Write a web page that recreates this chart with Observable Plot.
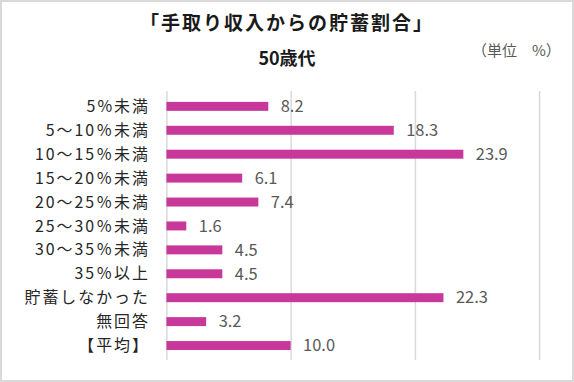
<!DOCTYPE html>
<html>
<head>
<meta charset="utf-8">
<script src="https://cdn.jsdelivr.net/npm/d3@7"></script>
<script src="https://cdn.jsdelivr.net/npm/@observablehq/plot@0.6"></script>
<style>
  html, body { margin: 0; padding: 0; background: #fff; }
  #frame {
    position: relative; width: 574px; height: 382px; box-sizing: border-box;
    border: 2px solid #d9d9d9; background: #fff; overflow: hidden;
    font-family: "Noto Sans CJK JP", sans-serif;
  }
  #title {
    position: absolute; left: -2px; width: 574px; top: 6px; text-align: center;
    font-size: 19px; font-weight: bold; color: #1a1a1a; letter-spacing: 2px; line-height: 28px;
  }
  #subtitle {
    position: absolute; left: -2px; width: 574px; top: 43px; text-align: center;
    font-size: 18px; font-weight: bold; color: #1a1a1a; line-height: 24px;
  }
  #unit {
    position: absolute; left: 470px; top: 36px;
    font-size: 15px; color: #595959; line-height: 24px; white-space: pre;
  }
  #chart { position: absolute; left: -2px; top: 66px; }
  #chart g[aria-label="y-axis tick label"] text { letter-spacing: 2px; }
</style>
</head>
<body>
<div id="frame">
  <div id="title">「手取り収入からの貯蓄割合」</div>
  <div id="subtitle">50歳代</div>
  <div id="unit">（単位　%）</div>
  <div id="chart"></div>
</div>
<script>
const categories = ["5%未満", "5～10％未満", "10～15％未満", "15～20％未満", "20～25％未満", "25～30％未満", "30～35％未満", "35％以上", "貯蓄しなかった", "無回答", "【平均】"];
const values = [8.2, 18.3, 23.9, 6.1, 7.4, 1.6, 4.5, 4.5, 22.3, 3.2, 10.0];
const gridTicks = [0, 10, 20, 30];

const data = categories.map((c, i) => ({category: c, value: values[i]}));

const chart = Plot.plot({
  width: 574,
  height: 304,
  marginLeft: 167,
  marginRight: 33,
  marginTop: 23,
  marginBottom: 11,
  style: {fontFamily: '"Noto Sans CJK JP", sans-serif', background: "transparent"},
  x: {domain: [0, 30], axis: null},
  y: {domain: categories, paddingInner: 0.64, paddingOuter: 0.32, label: null},
  marks: [
    Plot.ruleX(gridTicks, {stroke: "#d9d9d9", strokeWidth: 1.5}),
    Plot.barX(data, {x: "value", y: "category", fill: "#c8379a"}),
    Plot.text(data, {x: "value", y: "category", text: d => d.value.toFixed(1), textAnchor: "start", dx: 12, fill: "#595959", fontSize: 16.5}),
    Plot.axisY({tickSize: 0, tickPadding: 17, fontSize: 16, color: "#262626", label: null})
  ]
});
document.getElementById("chart").appendChild(chart);
</script>
</body>
</html>
